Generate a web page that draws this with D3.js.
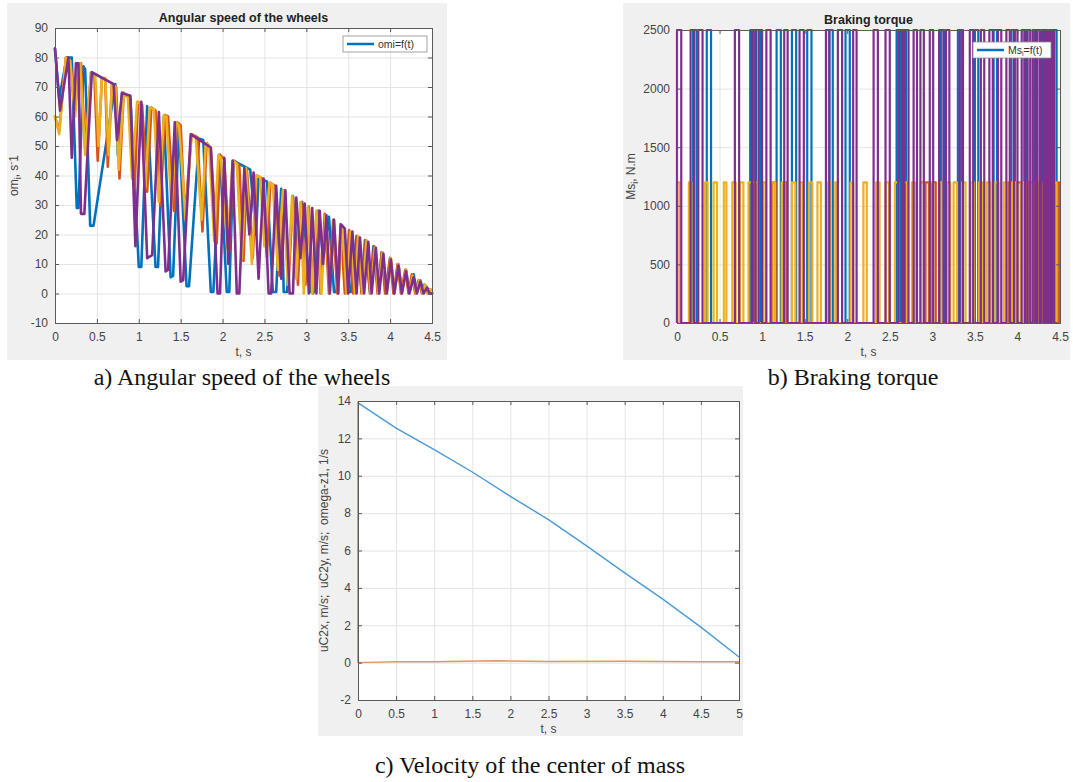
<!DOCTYPE html>
<html>
<head>
<meta charset="utf-8">
<script src="https://cdn.jsdelivr.net/npm/d3@7"></script>
<style>
body { margin: 0; background: #fff; }
</style>
</head>
<body>
<script>
// ---- panel a: angular speed of the wheels, [t, om] vertices ----
var omBlue = [[0,83],[0.05,66],[0.14,80],[0.2,80],[0.26,29],[0.28,29],[0.34,77],[0.36,76],[0.42,23],[0.46,23],[0.72,71],[0.75,47],[0.8,68],[0.9,66],[1.0,9],[1.03,9],[1.1,63.5],[1.2,9],[1.23,9],[1.3,60],[1.38,5.5],[1.41,6],[1.48,57.5],[1.57,2.5],[1.6,2.5],[1.72,52.5],[1.77,52],[1.86,0.5],[1.89,0.5],[1.97,47],[2.05,0.5],[2.08,0.5],[2.13,45],[2.33,42],[2.4,20],[2.43,39],[2.53,38],[2.6,0.5],[2.64,0.5],[2.7,35.5],[2.73,0.5],[2.77,0.5],[2.84,33],[2.9,10],[2.95,31],[3.05,0.5],[3.1,0.5],[3.15,28],[3.2,12],[3.27,26],[3.33,0.5],[3.36,0.5],[3.42,23],[3.5,0.5],[3.53,0.5],[3.6,19.5],[3.66,0.5],[3.7,18],[3.76,0.5],[3.8,16],[3.86,0.5],[3.9,14],[3.95,0.5],[4.0,12],[4.05,0.5],[4.1,10],[4.14,0.5],[4.19,8],[4.23,0.5],[4.28,6.5],[4.32,0.5],[4.36,4.5],[4.4,0.5],[4.43,2.5],[4.47,0.5],[4.5,0.3]];
var omOrange = [[0,60],[0.05,55],[0.13,80],[0.18,79],[0.24,62],[0.28,78],[0.31,78],[0.36,49],[0.43,75],[0.47,74],[0.51,45],[0.56,73],[0.6,72.5],[0.63,43],[0.68,71],[0.73,70],[0.77,39],[0.82,68],[0.88,66.5],[0.95,35],[0.99,65],[1.04,64],[1.1,34.5],[1.15,63],[1.2,62],[1.26,30],[1.31,60.5],[1.35,60],[1.42,28],[1.46,58],[1.5,57],[1.55,25.5],[1.63,54],[1.7,53],[1.76,21],[1.81,51],[1.86,49],[1.93,17],[1.97,47],[2.02,45.5],[2.08,14],[2.13,45],[2.2,43.5],[2.25,11],[2.29,42],[2.36,12],[2.41,40],[2.47,39],[2.53,12.5],[2.57,37.5],[2.63,36.5],[2.68,6],[2.73,35],[2.79,5],[2.84,33],[2.9,3],[2.94,31],[2.99,3],[3.03,29.5],[3.08,0],[3.13,28],[3.17,0],[3.22,27],[3.27,0],[3.32,25],[3.37,0],[3.41,23],[3.46,0],[3.51,21.5],[3.56,0],[3.61,19.5],[3.66,0],[3.71,18],[3.76,0],[3.81,16],[3.85,0],[3.9,14],[3.94,0],[4.0,12],[4.04,0],[4.09,10],[4.13,0],[4.18,8],[4.22,0],[4.26,6.5],[4.3,0],[4.34,4.5],[4.38,0],[4.41,3],[4.45,0],[4.48,1.5],[4.5,0]];
var omYellow = [[0,60],[0.05,54],[0.13,80],[0.18,79],[0.24,60],[0.28,78],[0.3,78],[0.36,47],[0.43,75],[0.48,74],[0.52,50],[0.56,73],[0.6,73],[0.64,47],[0.68,71],[0.72,70],[0.76,42],[0.82,68],[0.87,66.5],[0.92,39],[0.98,65],[1.02,64.5],[1.08,36],[1.13,63],[1.18,62.5],[1.24,31],[1.3,60.5],[1.33,60],[1.39,29],[1.45,58],[1.48,57],[1.56,25],[1.63,54],[1.68,53],[1.75,25],[1.8,51],[1.84,50],[1.9,18],[1.95,47],[1.98,46],[2.06,15],[2.12,45],[2.17,44],[2.23,12],[2.28,42.5],[2.35,10],[2.4,40],[2.45,39.5],[2.5,16],[2.56,37.5],[2.6,37],[2.66,8],[2.72,35],[2.78,3],[2.83,33],[2.88,5],[2.93,31],[2.97,0],[3.02,29.5],[3.07,0],[3.12,28],[3.18,0],[3.23,26.5],[3.28,0],[3.33,25],[3.38,0],[3.43,23],[3.48,0],[3.53,21],[3.58,0],[3.62,19.5],[3.67,0],[3.72,18],[3.77,0],[3.82,15.5],[3.86,0],[3.91,14],[3.96,0],[4.01,12],[4.05,0],[4.1,10],[4.14,0],[4.19,8],[4.23,0],[4.27,6],[4.31,0],[4.35,4.5],[4.39,0],[4.42,3],[4.45,0],[4.48,1.5],[4.5,0]];
var omPurple = [[0,83],[0.06,62],[0.16,80],[0.2,46],[0.25,78],[0.28,78],[0.31,27],[0.35,27],[0.44,75],[0.7,71],[0.74,52],[0.8,68],[0.9,67],[0.96,16],[1.03,65],[1.1,12],[1.16,13],[1.24,61.5],[1.32,7.5],[1.35,8],[1.43,58],[1.5,4],[1.53,4.5],[1.62,54],[1.86,49.5],[1.94,0],[1.97,0],[2.02,46],[2.07,10],[2.12,45],[2.17,0],[2.2,0],[2.26,42.5],[2.32,20],[2.37,41],[2.43,5],[2.49,39],[2.55,0],[2.58,0],[2.64,36.5],[2.7,5],[2.75,35],[2.8,0],[2.84,0],[2.88,32.5],[2.93,12],[2.98,30.5],[3.03,0],[3.07,29],[3.12,0],[3.16,28],[3.2,10],[3.24,26.5],[3.28,0],[3.33,25],[3.38,0],[3.41,23.5],[3.46,22],[3.5,0],[3.55,21],[3.6,0],[3.64,19],[3.69,0],[3.74,17.5],[3.78,0],[3.83,15.5],[3.87,0],[3.92,13.5],[3.96,0],[4.01,11.5],[4.05,0],[4.1,9.5],[4.14,0],[4.19,7.5],[4.23,0],[4.28,5.5],[4.32,0],[4.36,4],[4.4,0],[4.44,2],[4.47,0],[4.5,0]];

// ---- panel b: braking torque, pulses [t on, t off] ----
var msBlueOn = [[0.19,0.23],[0.35,0.4],[0.86,0.9],[0.93,0.98],[1.17,1.22],[1.35,1.4],[1.53,1.58],[1.79,1.83],[1.98,2.03],[2.58,2.62],[2.64,2.69],[3.1,3.14],[3.3,3.34],[3.5,3.54],[3.72,3.76],[3.93,3.97],[4.08,4.11],[4.2,4.23],[4.3,4.33],[4.38,4.41],[4.43,4.46]];
var msOrangeOn = [[0.88,0.92],[1.12,1.16],[1.25,1.29],[2.92,2.96],[3.0,3.04],[3.9,3.94],[4.0,4.04],[4.1,4.14],[4.2,4.24],[4.3,4.34],[4.38,4.41],[4.46,4.49]];
var msYellowOn = [[0,0.03],[0.14,0.17],[0.33,0.36],[0.43,0.47],[0.55,0.58],[0.65,0.69],[0.74,0.78],[0.84,0.88],[0.92,0.96],[1.01,1.04],[1.11,1.15],[1.23,1.27],[1.35,1.39],[1.45,1.48],[1.55,1.59],[1.65,1.69],[1.76,1.8],[1.86,1.88],[2.04,2.07],[2.19,2.23],[2.34,2.38],[2.45,2.49],[2.56,2.6],[2.66,2.7],[2.76,2.8],[2.86,2.9],[2.97,3.01],[3.08,3.11],[3.17,3.21],[3.25,3.29],[3.35,3.39],[3.45,3.49],[3.55,3.59],[3.64,3.68],[3.74,3.78],[3.84,3.88],[3.94,3.98],[4.04,4.08],[4.14,4.18],[4.24,4.28],[4.34,4.37],[4.42,4.46]];
var msPurpleOn = [[0,0.05],[0.16,0.2],[0.25,0.3],[0.68,0.73],[0.88,0.92],[0.96,1.0],[1.05,1.1],[1.26,1.3],[1.44,1.49],[1.75,1.79],[1.89,1.94],[2.07,2.11],[2.31,2.36],[2.45,2.5],[2.6,2.65],[2.67,2.72],[2.78,2.82],[2.86,2.9],[2.97,3.01],[3.08,3.13],[3.16,3.2],[3.32,3.36],[3.44,3.48],[3.57,3.61],[3.67,3.71],[3.77,3.81],[3.87,3.91],[3.96,4.0],[4.05,4.09],[4.12,4.15],[4.18,4.21],[4.23,4.26],[4.28,4.31],[4.33,4.35],[4.37,4.39],[4.41,4.43]];
var msHigh = [2500, 1200, 1200, 2500];

// ---- panel c: velocity of the centre of mass ----
var vcT = [0, 0, 0.5, 1, 1.5, 2, 2.5, 3, 3.5, 4, 4.5, 5];
var uC2x = [0, 13.9, 12.55, 11.4, 10.2, 8.9, 7.65, 6.25, 4.8, 3.4, 1.9, 0.3];
var uC2yT = [0, 0.5, 1, 1.8, 2.5, 3.5, 4.5, 5];
var uC2y = [0, 0.05, 0.05, 0.1, 0.06, 0.07, 0.05, 0.05];

var ticksA = [0,0.5,1,1.5,2,2.5,3,3.5,4,4.5];
var ticksAy = [-10,0,10,20,30,40,50,60,70,80,90];
var ticksBy = [0,500,1000,1500,2000,2500];
var ticksC = [0,0.5,1,1.5,2,2.5,3,3.5,4,4.5,5];
var ticksCy = [-2,0,2,4,6,8,10,12,14];

var colors = ["#0072BD", "#D95319", "#EDB120", "#7E2F8E"];
var font = "'Liberation Sans', Arial, sans-serif";
var nb = "\u00a0";

var svg = d3.select("body").append("svg")
    .attr("width", 1073)
    .attr("height", 782)
    .style("font-family", font);

function panel(p) {
  svg.append("rect")
      .attr("x", p.bg[0]).attr("y", p.bg[1])
      .attr("width", p.bg[2] - p.bg[0]).attr("height", p.bg[3] - p.bg[1])
      .attr("fill", "#f0f0f0");
  var w = p.r - p.l, h = p.b - p.t;
  var x = d3.scaleLinear().domain(p.xd).range([0, w]);
  var y = d3.scaleLinear().domain(p.yd).range([h, 0]);
  var g = svg.append("g").attr("transform", "translate(" + p.l + "," + p.t + ")");
  g.append("rect").attr("width", w).attr("height", h).attr("fill", "#fff");

  g.append("g").attr("class", "grid").attr("transform", "translate(0," + h + ")")
      .call(d3.axisBottom(x).tickValues(p.xt).tickSize(-h).tickFormat(""));
  g.append("g").attr("class", "grid")
      .call(d3.axisLeft(y).tickValues(p.yt).tickSize(-w).tickFormat(""));
  g.selectAll(".grid line").attr("stroke", "#e4e4e4");
  g.selectAll(".grid .domain").remove();

  g.append("clipPath").attr("id", "clip" + p.id)
    .append("rect").attr("x", -3).attr("y", -3).attr("width", w + 6).attr("height", h + 6);
  var plot = g.append("g").attr("clip-path", "url(#clip" + p.id + ")");

  var frame = g.append("g");
  frame.append("g").attr("transform", "translate(0," + h + ")")
      .call(d3.axisBottom(x).tickValues(p.xt).tickSize(-4).tickPadding(9).tickFormat(function(d) { return String(d); }));
  frame.append("g")
      .call(d3.axisLeft(y).tickValues(p.yt).tickSize(-4).tickPadding(7).tickFormat(function(d) { return String(d); }));
  frame.append("g")
      .call(d3.axisTop(x).tickValues(p.xt).tickSize(-4).tickFormat(""));
  frame.append("g").attr("transform", "translate(" + w + ",0)")
      .call(d3.axisRight(y).tickValues(p.yt).tickSize(-4).tickFormat(""));
  frame.selectAll("g").attr("font-family", font).attr("font-size", 12);
  frame.selectAll(".domain").attr("stroke", "#5a5a5a");
  frame.selectAll(".tick line").attr("stroke", "#5a5a5a");
  frame.selectAll("text").attr("fill", "#444");

  if (p.title) {
    g.append("text").attr("x", w / 2).attr("y", -6)
        .attr("text-anchor", "middle").attr("font-size", 12.5).attr("font-weight", "bold")
        .attr("fill", "#222").text(p.title);
  }
  g.append("text").attr("x", w / 2).attr("y", h + 33)
      .attr("text-anchor", "middle").attr("font-size", 12).attr("fill", "#444").text("t, s");
  var yl = g.append("text")
      .attr("transform", "translate(" + p.ylx + "," + (h / 2) + ") rotate(-90)")
      .attr("text-anchor", "middle").attr("font-size", 12).attr("fill", "#444");
  p.ylabel.forEach(function(s) {
    var ts = yl.append("tspan").text(s[0]);
    if (s[1] === "sub") ts.attr("font-size", 9).attr("dy", 3);
    if (s[1] === "sup") ts.attr("font-size", 9).attr("dy", -4);
    if (s[1] === "back") ts.attr("dy", s[2]);
  });
  return { g: g, plot: plot, x: x, y: y, w: w, h: h };
}

function legend(g, lx, ly, lw, color, parts) {
  var lg = g.append("g").attr("transform", "translate(" + lx + "," + ly + ")");
  lg.append("rect").attr("width", lw).attr("height", 16)
      .attr("fill", "#fff").attr("stroke", "#8c8c8c").attr("stroke-width", 0.8);
  lg.append("line").attr("x1", 4).attr("x2", 31).attr("y1", 8).attr("y2", 8)
      .attr("stroke", color).attr("stroke-width", 2.5);
  var t = lg.append("text").attr("x", 35).attr("y", 11.5).attr("font-size", 10.5).attr("fill", "#333");
  parts.forEach(function(s) {
    var ts = t.append("tspan").text(s[0]);
    if (s[1] === "sub") ts.attr("font-size", 7).attr("dy", 2);
    if (s[1] === "back") ts.attr("dy", -2);
  });
}

// ---------- a) ----------
var A = panel({
  id: "a", bg: [7, 3, 447, 360], l: 55, r: 432, t: 28, b: 323,
  xd: [0, 4.5], yd: [-10, 90], xt: ticksA, yt: ticksAy,
  title: "Angular speed of the wheels", ylx: -37,
  ylabel: [["om"], ["i", "sub"], [", s", "back", -3], ["-", "sup"], ["1", "back", 4]]
});
var lineA = d3.line().x(function(d) { return A.x(d[0]); }).y(function(d) { return A.y(d[1]); });
[omBlue, omOrange, omYellow, omPurple].forEach(function(s, i) {
  A.plot.append("path").datum(s).attr("d", lineA)
      .attr("fill", "none").attr("stroke", colors[i]).attr("stroke-width", 2.6)
      .attr("stroke-linejoin", "round").attr("stroke-linecap", "round");
});
legend(A.g, 288, 8, 84, colors[0], [["omi=f(t)"]]);

// ---------- b) ----------
var B = panel({
  id: "b", bg: [623, 3, 1070, 360], l: 677, r: 1060, t: 30, b: 323,
  xd: [0, 4.5], yd: [0, 2500], xt: ticksA, yt: ticksBy,
  title: "Braking torque", ylx: -42,
  ylabel: [["Ms"], ["i", "sub"], [", N.m", "back", -3]]
});
function square(pulses, hi) {
  var pts = [];
  if (pulses[0][0] > 0) pts.push([0, 0]);
  pulses.forEach(function(pr) {
    pts.push([pr[0], 0], [pr[0], hi], [pr[1], hi], [pr[1], 0]);
  });
  pts.push([4.47, 0]);
  return pts;
}
var lineB = d3.line().x(function(d) { return B.x(d[0]); }).y(function(d) { return B.y(d[1]); });
[msBlueOn, msOrangeOn, msYellowOn, msPurpleOn].forEach(function(s, i) {
  B.plot.append("path").datum(square(s, msHigh[i])).attr("d", lineB)
      .attr("fill", "none").attr("stroke", colors[i]).attr("stroke-width", 2.2)
      .attr("stroke-linejoin", "round");
});
legend(B.g, 296, 12, 78, colors[0], [["Ms"], ["i", "sub"], ["=f(t)", "back"]]);

// ---------- c) ----------
var C = panel({
  id: "c", bg: [318, 386, 743, 736], l: 358, r: 739, t: 401, b: 700,
  xd: [0, 5], yd: [-2, 14], xt: ticksC, yt: ticksCy,
  title: null, ylx: -30,
  ylabel: [["uC2x, m/s;" + nb + " uC2y, m/s;" + nb + " omega-z1, 1/s"]]
});
var lineC = d3.line().x(function(d) { return C.x(d[0]); }).y(function(d) { return C.y(d[1]); });
C.plot.append("path").datum(d3.zip(uC2yT, uC2y)).attr("d", lineC)
    .attr("fill", "none").attr("stroke", "#e8935e").attr("stroke-width", 1.4);
C.plot.append("path").datum(d3.zip(vcT, uC2x)).attr("d", lineC)
    .attr("fill", "none").attr("stroke", "#4a9bd6").attr("stroke-width", 1.4);

// ---------- captions ----------
var captions = [
  { x: 242, y: 385, t: "a) Angular speed of the wheels" },
  { x: 853, y: 385, t: "b) Braking torque" },
  { x: 530, y: 773, t: "c) Velocity of the center of mass" }
];
svg.selectAll("text.cap").data(captions).enter().append("text")
    .attr("class", "cap")
    .attr("x", function(d) { return d.x; }).attr("y", function(d) { return d.y; })
    .attr("text-anchor", "middle")
    .attr("font-family", "'Liberation Serif', 'Times New Roman', serif")
    .attr("font-size", 24).attr("fill", "#111")
    .text(function(d) { return d.t; });
</script>
</body>
</html>
